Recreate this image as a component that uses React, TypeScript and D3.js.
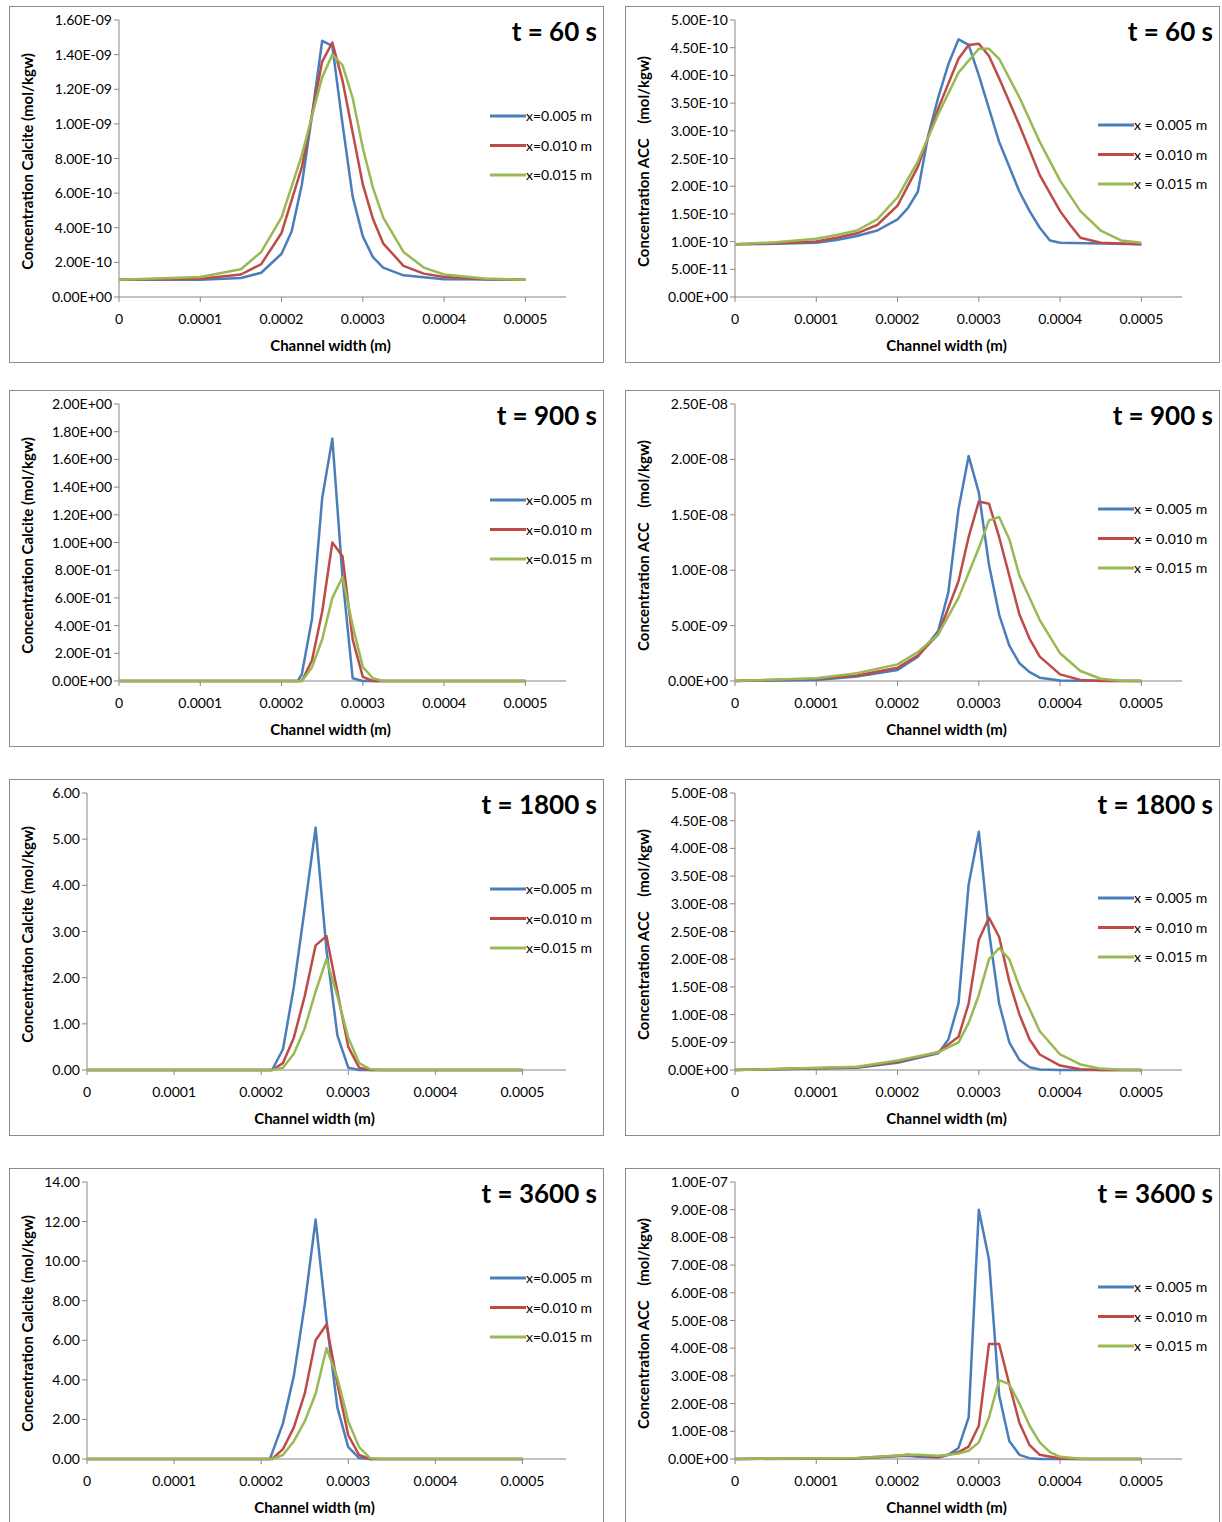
import React from "react";
import * as d3 from "d3";

type Pt = [number, number];

const seriesNames = ["x=0.005 m", "x=0.010 m", "x=0.015 m"];
const seriesNamesACC = ["x = 0.005 m", "x = 0.010 m", "x = 0.015 m"];
const colors = ["#4a7ebb", "#be4b48", "#98b954"];
const xTicks = [0, 0.0001, 0.0002, 0.0003, 0.0004, 0.0005];
const titles = ["t = 60 s", "t = 900 s", "t = 1800 s", "t = 3600 s"];

// calcite, t = 60 s
const cal60: Pt[][] = [
  [[0, 1e-10], [0.0001, 1.0e-10], [0.00015, 1.1e-10], [0.000175, 1.4e-10], [0.0002, 2.5e-10], [0.0002125, 3.8e-10], [0.000225, 6.5e-10], [0.0002375, 1.05e-9], [0.00025, 1.48e-9], [0.0002625, 1.45e-9], [0.000275, 1.0e-9], [0.0002875, 5.8e-10], [0.0003, 3.5e-10], [0.0003125, 2.3e-10], [0.000325, 1.7e-10], [0.00035, 1.25e-10], [0.0004, 1.02e-10], [0.0005, 1e-10]],
  [[0, 1e-10], [0.0001, 1.05e-10], [0.00015, 1.3e-10], [0.000175, 1.9e-10], [0.0002, 3.7e-10], [0.000225, 7.5e-10], [0.00025, 1.36e-9], [0.0002625, 1.47e-9], [0.000275, 1.25e-9], [0.0002875, 9.5e-10], [0.0003, 6.5e-10], [0.0003125, 4.5e-10], [0.000325, 3.1e-10], [0.00035, 1.8e-10], [0.000375, 1.35e-10], [0.0004, 1.15e-10], [0.00045, 1.03e-10], [0.0005, 1e-10]],
  [[0, 1e-10], [0.0001, 1.15e-10], [0.00015, 1.6e-10], [0.000175, 2.6e-10], [0.0002, 4.6e-10], [0.000225, 8.2e-10], [0.00025, 1.27e-9], [0.0002625, 1.40e-9], [0.000275, 1.34e-9], [0.0002875, 1.15e-9], [0.0003, 8.6e-10], [0.0003125, 6.3e-10], [0.000325, 4.6e-10], [0.00035, 2.6e-10], [0.000375, 1.7e-10], [0.0004, 1.3e-10], [0.00045, 1.07e-10], [0.0005, 1e-10]],
];
// ACC, t = 60 s
const acc60: Pt[][] = [
  [[0, 9.5e-11], [0.00005, 9.6e-11], [0.0001, 9.8e-11], [0.000125, 1.03e-10], [0.00015, 1.1e-10], [0.000175, 1.2e-10], [0.0002, 1.4e-10], [0.0002125, 1.6e-10], [0.000225, 1.9e-10], [0.0002375, 2.9e-10], [0.00025, 3.6e-10], [0.0002625, 4.2e-10], [0.000275, 4.65e-10], [0.0002875, 4.55e-10], [0.0003, 4.0e-10], [0.0003125, 3.4e-10], [0.000325, 2.8e-10], [0.0003375, 2.35e-10], [0.00035, 1.9e-10], [0.0003625, 1.55e-10], [0.000375, 1.25e-10], [0.0003875, 1.02e-10], [0.0004, 9.8e-11], [0.0005, 9.5e-11]],
  [[0, 9.5e-11], [0.00005, 9.7e-11], [0.0001, 1.0e-10], [0.000125, 1.07e-10], [0.00015, 1.15e-10], [0.000175, 1.3e-10], [0.0002, 1.65e-10], [0.000225, 2.35e-10], [0.00025, 3.4e-10], [0.000275, 4.3e-10], [0.0002875, 4.55e-10], [0.0003, 4.57e-10], [0.0003125, 4.35e-10], [0.000325, 3.95e-10], [0.00035, 3.1e-10], [0.000375, 2.2e-10], [0.0004, 1.55e-10], [0.0004125, 1.3e-10], [0.000425, 1.07e-10], [0.00045, 9.8e-11], [0.0005, 9.5e-11]],
  [[0, 9.5e-11], [0.00005, 9.9e-11], [0.0001, 1.05e-10], [0.000125, 1.12e-10], [0.00015, 1.2e-10], [0.000175, 1.4e-10], [0.0002, 1.8e-10], [0.000225, 2.45e-10], [0.00025, 3.3e-10], [0.000275, 4.05e-10], [0.0003, 4.48e-10], [0.0003125, 4.48e-10], [0.000325, 4.3e-10], [0.00035, 3.6e-10], [0.000375, 2.8e-10], [0.0004, 2.1e-10], [0.000425, 1.55e-10], [0.00045, 1.2e-10], [0.000475, 1.02e-10], [0.0005, 9.8e-11]],
];
// calcite, t = 900 s
const cal900: Pt[][] = [
  [[0, 0], [0.00022, 0], [0.000225, 0.05], [0.0002375, 0.45], [0.00025, 1.32], [0.0002625, 1.75], [0.000275, 0.75], [0.0002875, 0.02], [0.0003, 0], [0.0005, 0]],
  [[0, 0], [0.000225, 0], [0.0002375, 0.15], [0.00025, 0.5], [0.0002625, 1.0], [0.000275, 0.9], [0.0002875, 0.3], [0.0003, 0.03], [0.0003125, 0], [0.0005, 0]],
  [[0, 0], [0.000225, 0], [0.0002375, 0.1], [0.00025, 0.3], [0.0002625, 0.6], [0.000275, 0.75], [0.0002875, 0.4], [0.0003, 0.1], [0.0003125, 0.02], [0.000325, 0], [0.0005, 0]],
];
// ACC, t = 900 s
const acc900: Pt[][] = [
  [[0, 0], [0.0001, 0.1e-9], [0.00015, 0.4e-9], [0.0002, 1.0e-9], [0.000225, 2.2e-9], [0.00025, 4.5e-9], [0.0002625, 8e-9], [0.000275, 1.55e-8], [0.0002875, 2.03e-8], [0.0003, 1.7e-8], [0.0003125, 1.05e-8], [0.000325, 6e-9], [0.0003375, 3.2e-9], [0.00035, 1.6e-9], [0.0003625, 0.8e-9], [0.000375, 0.3e-9], [0.0004, 0.05e-9], [0.0005, 0]],
  [[0, 0], [0.0001, 0.2e-9], [0.00015, 0.5e-9], [0.0002, 1.2e-9], [0.000225, 2.3e-9], [0.00025, 4.2e-9], [0.000275, 9e-9], [0.0002875, 1.3e-8], [0.0003, 1.62e-8], [0.0003125, 1.6e-8], [0.000325, 1.3e-8], [0.0003375, 9.5e-9], [0.00035, 6e-9], [0.0003625, 3.8e-9], [0.000375, 2.2e-9], [0.0004, 0.6e-9], [0.000425, 0.1e-9], [0.00045, 0], [0.0005, 0]],
  [[0, 0], [0.0001, 0.25e-9], [0.00015, 0.7e-9], [0.0002, 1.5e-9], [0.000225, 2.6e-9], [0.00025, 4.2e-9], [0.000275, 7.5e-9], [0.0003, 1.2e-8], [0.0003125, 1.45e-8], [0.000325, 1.48e-8], [0.0003375, 1.28e-8], [0.00035, 9.5e-9], [0.000375, 5.5e-9], [0.0004, 2.5e-9], [0.000425, 0.9e-9], [0.00045, 0.2e-9], [0.000475, 0.03e-9], [0.0005, 0]],
];
// calcite, t = 1800 s
const cal1800: Pt[][] = [
  [[0, 0], [0.0002125, 0], [0.000225, 0.45], [0.0002375, 1.8], [0.00025, 3.5], [0.0002625, 5.25], [0.000275, 2.6], [0.0002875, 0.75], [0.0003, 0.05], [0.0003125, 0], [0.0005, 0]],
  [[0, 0], [0.0002125, 0], [0.000225, 0.15], [0.0002375, 0.7], [0.00025, 1.6], [0.0002625, 2.7], [0.000275, 2.9], [0.0002875, 1.7], [0.0003, 0.5], [0.0003125, 0.05], [0.000325, 0], [0.0005, 0]],
  [[0, 0], [0.0002125, 0], [0.000225, 0.05], [0.0002375, 0.35], [0.00025, 0.9], [0.0002625, 1.7], [0.000275, 2.4], [0.0002875, 1.6], [0.0003, 0.7], [0.0003125, 0.15], [0.000325, 0.02], [0.0003375, 0], [0.0005, 0]],
];
// ACC, t = 1800 s
const acc1800: Pt[][] = [
  [[0, 0], [0.00015, 0.4e-9], [0.0002, 1.3e-9], [0.00025, 3e-9], [0.0002625, 5.5e-9], [0.000275, 1.2e-8], [0.0002875, 3.35e-8], [0.0003, 4.3e-8], [0.0003125, 2.5e-8], [0.000325, 1.2e-8], [0.0003375, 5e-9], [0.00035, 1.8e-9], [0.0003625, 0.5e-9], [0.000375, 0.1e-9], [0.0004, 0], [0.0005, 0]],
  [[0, 0], [0.00015, 0.5e-9], [0.0002, 1.5e-9], [0.00025, 3.2e-9], [0.000275, 6e-9], [0.0002875, 1.2e-8], [0.0003, 2.35e-8], [0.0003125, 2.75e-8], [0.000325, 2.4e-8], [0.0003375, 1.6e-8], [0.00035, 1e-8], [0.0003625, 5.5e-9], [0.000375, 2.8e-9], [0.0004, 0.8e-9], [0.000425, 0.15e-9], [0.00045, 0], [0.0005, 0]],
  [[0, 0], [0.00015, 0.6e-9], [0.0002, 1.7e-9], [0.00025, 3.2e-9], [0.000275, 5e-9], [0.0002875, 8.5e-9], [0.0003, 1.35e-8], [0.0003125, 2e-8], [0.000325, 2.2e-8], [0.0003375, 2e-8], [0.00035, 1.5e-8], [0.0003625, 1.1e-8], [0.000375, 7e-9], [0.0004, 2.8e-9], [0.000425, 1e-9], [0.00045, 0.25e-9], [0.000475, 0.05e-9], [0.0005, 0]],
];
// calcite, t = 3600 s
const cal3600: Pt[][] = [
  [[0, 0], [0.00021, 0], [0.0002125, 0.3], [0.000225, 1.8], [0.0002375, 4.2], [0.00025, 7.8], [0.0002625, 12.1], [0.000275, 7], [0.0002875, 2.6], [0.0003, 0.6], [0.0003125, 0.05], [0.000325, 0], [0.0005, 0]],
  [[0, 0], [0.0002125, 0], [0.000225, 0.5], [0.0002375, 1.6], [0.00025, 3.3], [0.0002625, 6], [0.000275, 6.8], [0.0002875, 3.8], [0.0003, 1.2], [0.0003125, 0.2], [0.000325, 0], [0.0005, 0]],
  [[0, 0], [0.0002125, 0], [0.000225, 0.2], [0.0002375, 0.9], [0.00025, 1.9], [0.0002625, 3.3], [0.000275, 5.6], [0.0002875, 4.1], [0.0003, 1.9], [0.0003125, 0.6], [0.000325, 0.05], [0.0003375, 0], [0.0005, 0]],
];
// ACC, t = 3600 s
const acc3600: Pt[][] = [
  [[0, 0], [0.00015, 0.2e-9], [0.0002, 1e-9], [0.0002125, 1.2e-9], [0.000225, 0.8e-9], [0.00025, 0.5e-9], [0.0002625, 1.5e-9], [0.000275, 4e-9], [0.0002875, 1.5e-8], [0.0003, 9e-8], [0.0003125, 7.2e-8], [0.000325, 2.3e-8], [0.0003375, 6.5e-9], [0.00035, 1.5e-9], [0.0003625, 0.3e-9], [0.000375, 0], [0.0005, 0]],
  [[0, 0], [0.00015, 0.3e-9], [0.0002, 1.2e-9], [0.0002125, 1.5e-9], [0.000225, 1.3e-9], [0.00025, 0.8e-9], [0.0002625, 1.5e-9], [0.000275, 2.5e-9], [0.0002875, 4.5e-9], [0.0003, 1.2e-8], [0.0003125, 4.15e-8], [0.000325, 4.15e-8], [0.0003375, 2.7e-8], [0.00035, 1.3e-8], [0.0003625, 5e-9], [0.000375, 1.5e-9], [0.0004, 0.2e-9], [0.000425, 0], [0.0005, 0]],
  [[0, 0], [0.00015, 0.4e-9], [0.0002, 1.3e-9], [0.0002125, 1.5e-9], [0.000225, 1.5e-9], [0.00025, 1.2e-9], [0.0002625, 1.5e-9], [0.000275, 2e-9], [0.0002875, 3e-9], [0.0003, 6e-9], [0.0003125, 1.5e-8], [0.000325, 2.85e-8], [0.0003375, 2.7e-8], [0.00035, 2e-8], [0.0003625, 1.2e-8], [0.000375, 6e-9], [0.0003875, 2.5e-9], [0.0004, 0.8e-9], [0.000425, 0.1e-9], [0.00045, 0], [0.0005, 0]],
];

const calcite = [cal60, cal900, cal1800, cal3600];
const acc = [acc60, acc900, acc1800, acc3600];
const calYMax = [1.6e-9, 2.0, 6, 14];
const calYStep = [2e-10, 0.2, 1, 2];
const calSci = [true, true, false, false];
const accYMax = [5e-10, 2.5e-8, 5e-8, 1e-7];
const accYStep = [5e-11, 5e-9, 5e-9, 1e-8];

const FONT = "Lato, 'Open Sans', sans-serif";
const AX = "#868686";

function sci(v: number) {
  if (v === 0) return "0.00E+00";
  const [m, e] = v.toExponential(2).split("e");
  const n = Math.abs(+e);
  return `${m}E${+e < 0 ? "-" : "+"}${n < 10 ? "0" : ""}${n}`;
}

function fmtX(v: number) {
  return v === 0 ? "0" : d3.format(".4f")(v);
}

function Panel(props: {
  fx: number; fy: number; data: Pt[][]; yMax: number; yStep: number;
  sciFmt: boolean; plotLeft: number; title: string; yLabel: string;
  names: string[]; legendDy: number; legendX: number;
}) {
  const { fx, fy, data, yMax, yStep, sciFmt, plotLeft, title, yLabel, names, legendDy, legendX } = props;
  const top = fy + 14;
  const bottom = top + 277;
  const x = d3.scaleLinear().domain([0, 0.00055]).range([plotLeft, fx + 557]);
  const y = d3.scaleLinear().domain([0, yMax]).range([bottom, top]);
  const nT = Math.round(yMax / yStep);
  const yTicks = d3.range(nT + 1).map((i) => i * yStep);
  const line = d3.line<Pt>().x((d) => x(d[0])).y((d) => y(d[1]));
  const fmt = sciFmt ? sci : (v: number) => v.toFixed(2);
  return (
    <g fontFamily={FONT}>
      <rect x={fx + 0.5} y={fy + 0.5} width={594} height={356} fill="#fff" stroke="#8c8c8c" />
      <line x1={plotLeft} x2={plotLeft} y1={top} y2={bottom} stroke={AX} />
      <line x1={plotLeft} x2={x(0.00055)} y1={bottom} y2={bottom} stroke={AX} />
      {yTicks.map((t, i) => (
        <g key={i}>
          <line x1={plotLeft - 5} x2={plotLeft} y1={y(t)} y2={y(t)} stroke={AX} />
          <text x={plotLeft - 7} y={y(t) + 5} textAnchor="end" fontSize={14}>{fmt(t)}</text>
        </g>
      ))}
      {xTicks.map((t, i) => (
        <g key={i}>
          <line x1={x(t)} x2={x(t)} y1={bottom} y2={bottom + 5} stroke={AX} />
          <text x={x(t)} y={bottom + 27} textAnchor="middle" fontSize={14}>{fmtX(t)}</text>
        </g>
      ))}
      {data.map((s, i) => (
        <path key={i} d={line(s) || ""} fill="none" stroke={colors[i]} strokeWidth={2.5} strokeLinejoin="round" />
      ))}
      <text x={fx + 588} y={fy + 35} textAnchor="end" fontSize={26} fontWeight="bold">{title}</text>
      <text transform={`translate(${fx + 24},${(top + bottom) / 2 + 3}) rotate(-90)`} textAnchor="middle"
        fontSize={15} fontWeight="bold" style={{ whiteSpace: "pre" }}>{yLabel}</text>
      <text x={(plotLeft + x(0.00055)) / 2 - 12} y={fy + 345} textAnchor="middle" fontSize={15} fontWeight="bold">
        Channel width (m)
      </text>
      {names.map((n, i) => (
        <g key={i}>
          <line x1={legendX} x2={legendX + 36} y1={fy + legendDy + i * 29.5} y2={fy + legendDy + i * 29.5}
            stroke={colors[i]} strokeWidth={3} />
          <text x={legendX + 36} y={fy + legendDy + i * 29.5 + 5} fontSize={14}>{n}</text>
        </g>
      ))}
    </g>
  );
}

const rowTops = [6, 390, 779, 1168];

export default function App() {
  return (
    <svg width={1222} height={1522} style={{ position: "absolute", left: 0, top: 0 }}>
      <rect width={1222} height={1522} fill="#fff" />
      {rowTops.map((fy, r) => (
        <g key={r}>
          <Panel fx={9} fy={fy} data={calcite[r]} yMax={calYMax[r]} yStep={calYStep[r]} sciFmt={calSci[r]}
            plotLeft={r < 2 ? 119 : 87} title={titles[r]} yLabel="Concentration Calcite (mol/kgw)"
            names={seriesNames} legendDy={110} legendX={490} />
          <Panel fx={625} fy={fy} data={acc[r]} yMax={accYMax[r]} yStep={accYStep[r]} sciFmt={true}
            plotLeft={735} title={titles[r]} yLabel="Concentration ACC    (mol/kgw)"
            names={seriesNamesACC} legendDy={119} legendX={1098} />
        </g>
      ))}
    </svg>
  );
}
